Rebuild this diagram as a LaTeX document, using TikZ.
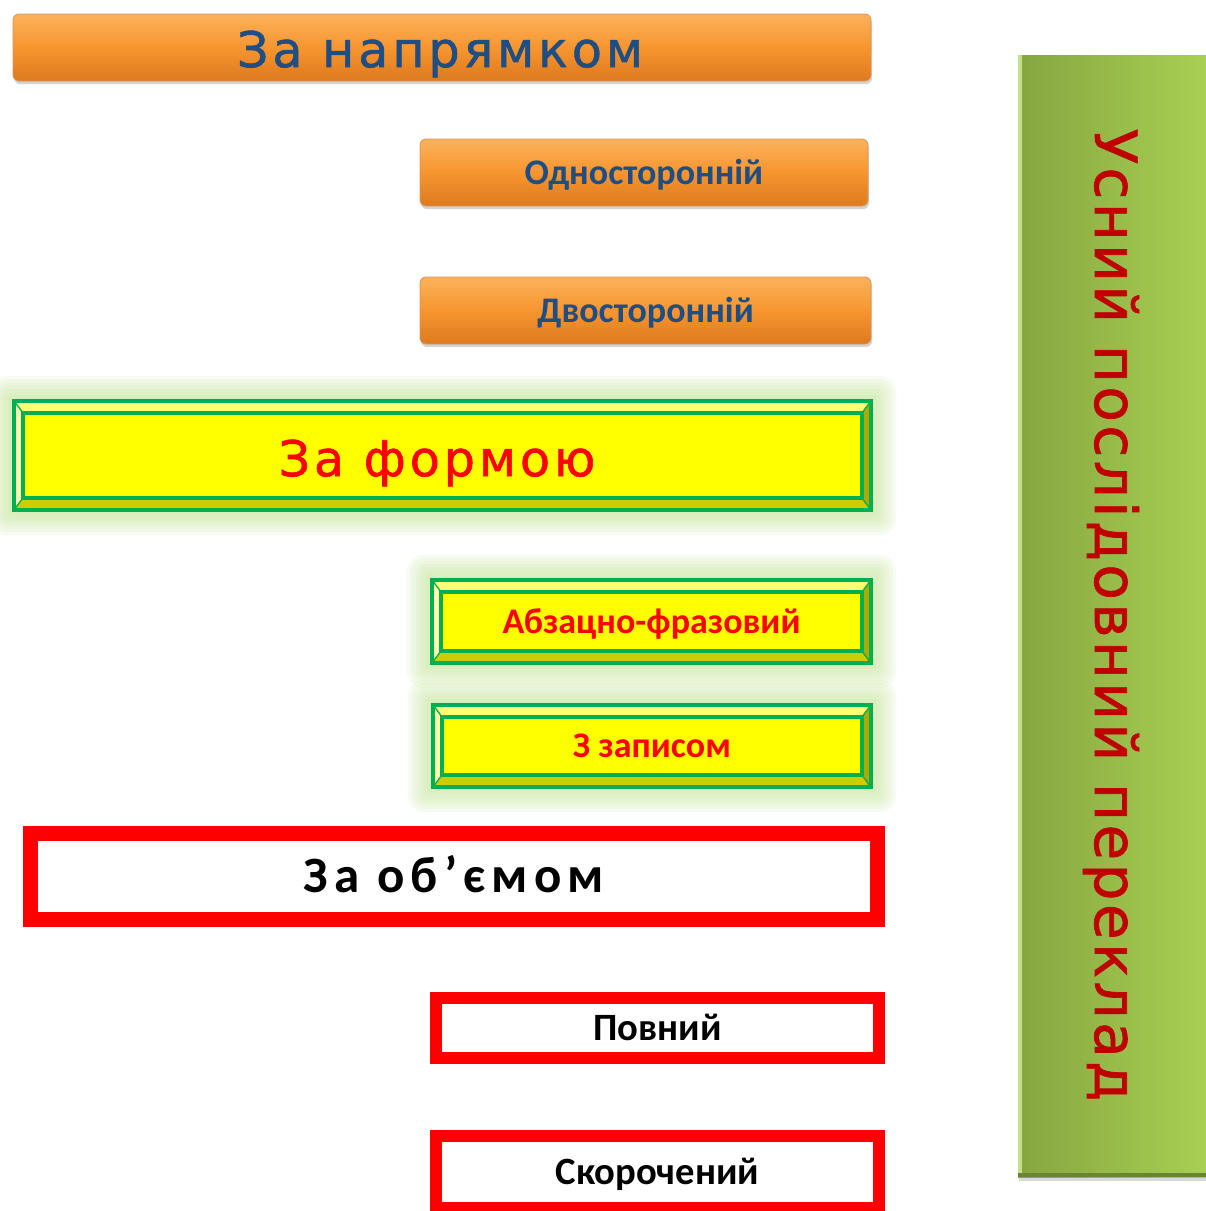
\documentclass[tikz,border=0pt]{standalone}
\usepackage{fontspec}
\setmainfont{Carlito}
\newfontfamily\comicfont[LetterSpace=8,FakeBold=1.2]{DejaVu Sans}
\newfontfamily\vertfont[LetterSpace=6,FakeBold=1.2]{DejaVu Sans}
\newfontfamily\spacedfont[LetterSpace=12]{Carlito}
\usetikzlibrary{positioning,calc,fit,backgrounds,shadows}
\definecolor{orangetop}{HTML}{FBB25C}
\definecolor{orangemid}{HTML}{F7952F}
\definecolor{orangebot}{HTML}{DC7A1E}
\definecolor{orangeedge}{HTML}{C96A14}
\definecolor{navytext}{HTML}{1F4E84}
\definecolor{lemon}{HTML}{FFFF00}
\definecolor{lemonhi}{HTML}{FFFF73}
\definecolor{lemonlo}{HTML}{CCCC00}
\definecolor{lemondk}{HTML}{B3A800}
\definecolor{frame}{HTML}{00B050}
\definecolor{glowgreen}{HTML}{C4E49A}
\definecolor{alarm}{HTML}{FF0000}
\definecolor{wine}{HTML}{C00000}
\definecolor{leafdk}{HTML}{86A540}
\definecolor{leaflt}{HTML}{A9D153}
\newcommand{\pw}{0.02cm}
% bevelled frame of a yellow box: node, inset x, inset y
\newcommand{\bevel}[3]{%
  \coordinate (#1-inw) at ($(#1.north west)+(#2,#3)$);
  \coordinate (#1-ine) at ($(#1.north east)+(-#2,#3)$);
  \coordinate (#1-ise) at ($(#1.south east)+(-#2,-#3)$);
  \coordinate (#1-isw) at ($(#1.south west)+(#2,-#3)$);
  \filldraw[bevelseam,fill=lemonhi] (#1.north west) -- (#1.north east) -- (#1-ine) -- (#1-inw) -- cycle;
  \filldraw[bevelseam,fill=lemonhi!60!white] (#1.north west) -- (#1-inw) -- (#1-isw) -- (#1.south west) -- cycle;
  \filldraw[bevelseam,fill=lemonlo] (#1.south west) -- (#1-isw) -- (#1-ise) -- (#1.south east) -- cycle;
  \filldraw[bevelseam,fill=lemondk] (#1.north east) -- (#1.south east) -- (#1-ise) -- (#1-ine) -- cycle;
  \draw[frameline] (#1-inw) rectangle (#1-ise);
  \draw[frameline] (#1.north west) rectangle (#1.south east);
}
% soft green halo behind a yellow box
\newcommand{\glow}[1]{%
  \begin{scope}[on background layer]
    \foreach \g in {1,...,8}
      \node[glowlayer,fit=(#1),inner sep=\g*1.8pt,rounded corners=\g*1.2pt] (#1-glow\g) {};
  \end{scope}
}

\begin{document}
\begin{tikzpicture}[x=0.02cm,y=-0.02cm,
  orangebox/.style={rectangle,rounded corners=3.5pt,top color=orangetop,bottom color=orangebot,
    middle color=orangemid,draw=orangeedge!70,line width=0.5pt,text=navytext,
    drop shadow={shadow xshift=0.6pt,shadow yshift=-1.8pt,opacity=0.35},
    font=\bfseries\fontsize{20.5}{25}\selectfont,text height=13.2pt,text depth=0pt},
  yellowbox/.style={rectangle,fill=lemon,draw=frame,line width=4*\pw,outer sep=0pt,text=alarm,
    font=\bfseries\fontsize{20.5}{25}\selectfont,text height=13.2pt,text depth=0pt},
  redbox/.style={rectangle,fill=white,draw=alarm,line width=12*\pw,outer sep=0pt,text=black,
    font=\bfseries\fontsize{22}{26}\selectfont,text height=14.2pt,text depth=0pt},
  headfont/.style={font=\comicfont\fontsize{28}{32}\selectfont},
  frameline/.style={draw=frame,line width=4*\pw},
  bevelseam/.style={draw=frame,line width=1.2*\pw},
  glowlayer/.style={fill=glowgreen,draw=none,opacity=0.13}]
\useasboundingbox (0,0) rectangle (1205,1211);

% by direction
\node[orangebox,minimum width=858*\pw,minimum height=67*\pw] (bydir) at (442,47.5) {};
\node[headfont,text=navytext] (bydirtext) at (440,54) {За напрямком};
\node[orangebox,minimum width=448*\pw,minimum height=67*\pw] (oneway) at (644,172.5) {Односторонній};
\node[orangebox,minimum width=451*\pw,minimum height=67*\pw] (twoway) at (645.5,310.5) {Двосторонній};

% by form
\node[yellowbox,minimum width=857*\pw,minimum height=109*\pw] (byform) at (442.5,455.5) {};
\foreach \n in {byform} {\bevel{\n}{9}{12}\glow{\n}}
\node[headfont,text=alarm] (byformtext) at (437,463) {За формою};
\node[yellowbox,minimum width=439*\pw,minimum height=83*\pw] (phrase) at (651.5,621.5) {Абзацно-фразовий};
\node[yellowbox,minimum width=438*\pw,minimum height=82*\pw] (notes) at (652,746) {З записом};
\foreach \n in {phrase,notes} {\bevel{\n}{9}{12}\glow{\n}}

% by volume
\node[redbox,line width=15*\pw,minimum width=847*\pw,minimum height=86*\pw,
  font=\spacedfont\bfseries\fontsize{29}{33}\selectfont,text height=18.7pt] (byvol) at (454,876.5) {За об’ємом};
\node[redbox,minimum width=443*\pw,minimum height=60*\pw] (full) at (657.5,1028) {Повний};
\node[redbox,minimum width=443*\pw,minimum height=72*\pw] (short) at (657.5,1172) {Скорочений};

% side bar
\node[rectangle,left color=leafdk,right color=leaflt,minimum width=192*\pw,minimum height=1122*\pw,
  drop shadow={shadow xshift=0.6pt,shadow yshift=-2pt,opacity=0.3}] (oral) at (1114,616) {};
\draw[leaflt!70!white,line width=4*\pw] ($(oral.north west)+(2,0)$) -- ($(oral.south west)+(2,0)$);
\draw[leafdk!80!black,line width=4*\pw] ($(oral.south west)+(0,-2)$) -- ($(oral.south east)+(0,-2)$);
\node[rotate=-90,text=wine,font=\vertfont\fontsize{33}{38}\selectfont] (oraltext) at (1111,615)
  {Усний послідовний переклад};
\end{tikzpicture}
\end{document}
